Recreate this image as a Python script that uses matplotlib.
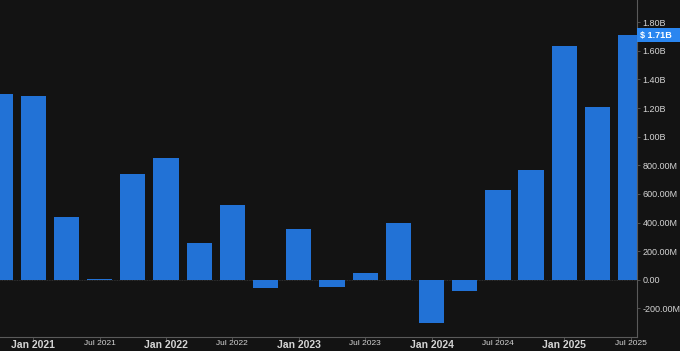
import matplotlib
matplotlib.use("Agg")
import matplotlib.pyplot as plt
from matplotlib.ticker import FuncFormatter
from matplotlib.patches import Rectangle
from matplotlib.transforms import blended_transform_factory

plt.rcParams["font.family"] = ["Liberation Sans", "DejaVu Sans"]

quarters = ["Q4 2020", "Q1 2021", "Q2 2021", "Q3 2021", "Q4 2021",
            "Q1 2022", "Q2 2022", "Q3 2022", "Q4 2022", "Q1 2023",
            "Q2 2023", "Q3 2023", "Q4 2023", "Q1 2024", "Q2 2024",
            "Q3 2024", "Q4 2024", "Q1 2025", "Q2 2025", "Q3 2025"]
values_b = [1.30, 1.286, 0.44, 0.003, 0.742,
            0.853, 0.256, 0.52, -0.058, 0.358,
            -0.049, 0.044, 0.395, -0.302, -0.076,
            0.626, 0.77, 1.636, 1.204, 1.71]
tick_labels = ["Jan 2021", "Jul 2021", "Jan 2022", "Jul 2022", "Jan 2023",
               "Jul 2023", "Jan 2024", "Jul 2024", "Jan 2025", "Jul 2025"]
tick_quarters = ["Q1 2021", "Q3 2021", "Q1 2022", "Q3 2022", "Q1 2023",
                 "Q3 2023", "Q1 2024", "Q3 2024", "Q1 2025", "Q3 2025"]
yticks_b = [-0.2, 0.0, 0.2, 0.4, 0.6, 0.8, 1.0, 1.2, 1.4, 1.6, 1.8]
last_label = "$ 1.71B"

bg = "#131313"
bar_color = "#2272d6"
txt = "#d4d4d4"
spine_c = "#5a5a5a"

fig = plt.figure(figsize=(6.8, 3.51), dpi=100, facecolor=bg)
ax = fig.add_axes([0.0, 14 / 351, 637 / 680, 337 / 351])
ax.set_facecolor(bg)

x = list(range(len(quarters)))
ax.bar(x, values_b, width=0.76, color=bar_color, zorder=2)
ax.axhline(0, color="#3a3a3a", lw=0.6, ls=(0, (1, 1)), zorder=1)

ax.set_xlim(0, 19.19)
ax.set_ylim(-0.4, 1.955)

ax.yaxis.tick_right()
ax.set_yticks(yticks_b)


def fmt(v, pos):
    if abs(v) < 1e-9:
        return "0.00"
    if abs(v) >= 1.0 - 1e-9:
        return f"{v:.2f}B"
    return f"{v * 1000:.2f}M"


ax.yaxis.set_major_formatter(FuncFormatter(fmt))
ax.tick_params(axis="y", colors=spine_c, labelcolor=txt, labelsize=6.5,
               length=2.5, width=0.6, pad=1.5)

tpos = [quarters.index(q) for q in tick_quarters]
ax.set_xticks(tpos)
ax.set_xticklabels(tick_labels)
ax.tick_params(axis="x", colors=spine_c, labelcolor=txt, length=2,
               width=0.6, pad=0.5)
for lbl in ax.get_xticklabels():
    if lbl.get_text().startswith("Jan"):
        lbl.set_fontsize(7.5)
        lbl.set_fontweight("bold")
    else:
        lbl.set_fontsize(6)

for side in ["top", "left"]:
    ax.spines[side].set_visible(False)
for side in ["right", "bottom"]:
    ax.spines[side].set_color(spine_c)
    ax.spines[side].set_linewidth(0.8)

# last-value badge spanning the full right gutter
tr = blended_transform_factory(fig.transFigure, ax.transData)
badge_h = 0.0925  # in data units (~13 px)
ax.add_patch(Rectangle((637 / 680, values_b[-1] - badge_h / 2), 43 / 680, badge_h,
                       transform=tr, facecolor="#2a86f0", edgecolor="none",
                       clip_on=False, zorder=5))
ax.text(640 / 680, values_b[-1], last_label, transform=tr,
        ha="left", va="center", fontsize=6.5, fontweight="bold", color="white",
        zorder=6, clip_on=False)

fig.savefig("out.png", dpi=100, facecolor=bg)
